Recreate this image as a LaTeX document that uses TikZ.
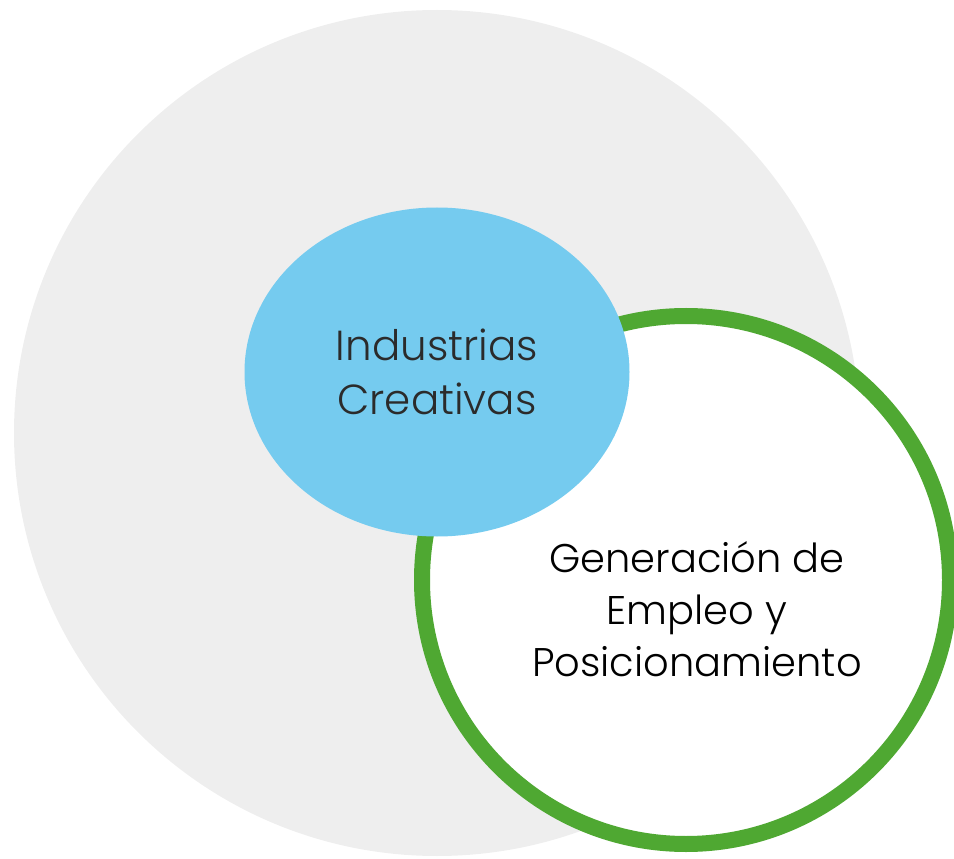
\documentclass[tikz,border=0pt]{standalone}
\usepackage{fontspec}
\setmainfont{Poppins Light}
\usetikzlibrary{shapes.geometric}
\definecolor{grisfondo}{HTML}{EEEEEE}
\definecolor{azulic}{HTML}{75CBEF}
\definecolor{verdege}{HTML}{4FA832}
\definecolor{textoic}{HTML}{2B2B2B}
\begin{document}
\begin{tikzpicture}[x = .75pt, y = -.75pt]
		\useasboundingbox (0,0) rectangle (954,859);
		\clip (0,0) rectangle (954,859);
		\node (Fondo) at (437,433) [circle, fill = grisfondo, inner sep = 0, minimum size = 634.5pt] {};

		\node (GE) at (686,580) [circle, draw = verdege, line width = 12pt, fill = white, inner sep = 0, minimum size = 396pt] {};
		\node (GEtexto) at (697,609) [align = center, font = \fontsize{30}{39}\selectfont, text = black] {Generación de\\Empleo y\\Posicionamiento};

		\node (IC) at (437,372) [ellipse, fill = azulic, inner sep = 0, minimum width = 288.75pt, minimum height = 246.75pt, align = center, font = \fontsize{31.5}{40.5}\selectfont, text = textoic] {Industrias\\Creativas};
		\end{tikzpicture}
\end{document}
